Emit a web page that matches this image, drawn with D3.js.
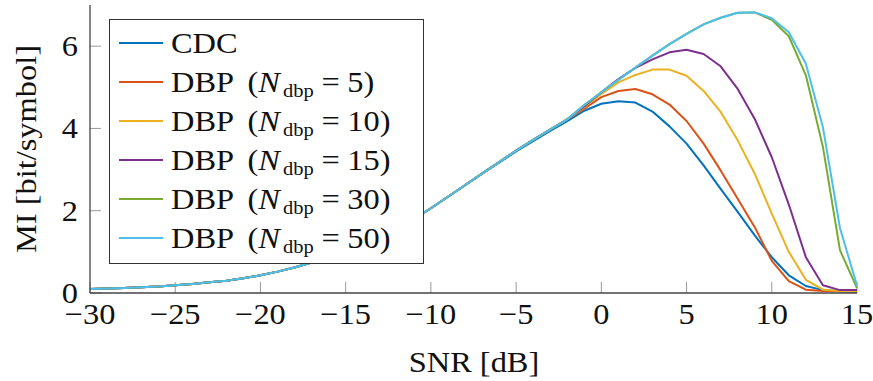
<!DOCTYPE html>
<html>
<head>
<meta charset="utf-8">
<script src="https://cdn.jsdelivr.net/npm/d3@7"></script>
<style>
  body { margin: 0; background: #fff; }
  svg text { font-family: "Liberation Serif", "DejaVu Serif", serif; fill: #111; }
</style>
</head>
<body>
<script>
// SNR grid [dB]
var snr = [-30, -29, -28, -27, -26, -25, -24, -23, -22, -21, -20, -19, -18, -17, -16,
           -15, -14, -13, -12, -11, -10, -9, -8, -7, -6, -5, -4, -3, -2,
           -1, 0, 1, 2, 3, 4, 5, 6, 7, 8, 9, 10, 11, 12, 13, 14, 15];

// MI values, -30 .. -2 dB, where all curves overlap
var low_dbp = [0.10, 0.11, 0.12, 0.14, 0.16, 0.19, 0.22, 0.26, 0.30, 0.36, 0.43, 0.52, 0.62, 0.74, 0.88,
               1.03, 1.20, 1.38, 1.58, 1.80, 2.06, 2.34, 2.62, 2.90, 3.18, 3.46, 3.72, 3.97, 4.22];
var low_cdc = [0.10, 0.11, 0.12, 0.14, 0.16, 0.19, 0.22, 0.26, 0.30, 0.36, 0.43, 0.52, 0.62, 0.74, 0.88,
               1.03, 1.20, 1.38, 1.58, 1.80, 2.06, 2.34, 2.62, 2.90, 3.17, 3.44, 3.69, 3.94, 4.18];

// MI values, -1 .. 15 dB
var cdc   = [4.43, 4.60, 4.66, 4.63, 4.41, 4.05, 3.63, 3.10, 2.53, 1.97, 1.40, 0.87, 0.43, 0.17, 0.07, 0.04, 0.03];
var dbp5  = [4.48, 4.76, 4.91, 4.96, 4.83, 4.58, 4.18, 3.63, 2.98, 2.29, 1.60, 0.78, 0.29, 0.08, 0.05, 0.04, 0.04];
var dbp10 = [4.52, 4.84, 5.12, 5.30, 5.43, 5.43, 5.28, 4.91, 4.40, 3.71, 2.90, 1.93, 1.00, 0.32, 0.08, 0.05, 0.05];
var dbp15 = [4.54, 4.88, 5.20, 5.47, 5.68, 5.85, 5.91, 5.81, 5.51, 4.96, 4.23, 3.30, 2.15, 0.87, 0.19, 0.07, 0.07];
var dbp30 = [4.57, 4.88, 5.18, 5.48, 5.77, 6.05, 6.30, 6.53, 6.69, 6.81, 6.82, 6.64, 6.24, 5.29, 3.55, 1.04, 0.12];
var dbp50 = [4.57, 4.88, 5.18, 5.48, 5.77, 6.05, 6.30, 6.53, 6.69, 6.81, 6.82, 6.68, 6.34, 5.57, 4.03, 1.58, 0.18];

var nvals  = [null, '5', '10', '15', '30', '50'];
var colors = ['#0072bd', '#d95319', '#edb120', '#7e2f8e', '#77ac30', '#4dbeee'];
var series = [low_cdc.concat(cdc), low_dbp.concat(dbp5), low_dbp.concat(dbp10),
              low_dbp.concat(dbp15), low_dbp.concat(dbp30), low_dbp.concat(dbp50)];

var xticks = [-30, -25, -20, -15, -10, -5, 0, 5, 10, 15];
var yticks = [0, 2, 4, 6];

var W = 873, H = 381;
var pad = {top: 5, left: 90};
var fs = 30;
var widen = 1.08;   // the Times-like face is narrower than the original serif

var svg = d3.select('body').append('svg')
    .attr('width', W).attr('height', H);

var sx = d3.scaleLinear().domain([-30, 15]).range([0, 767]);
var sy = d3.scaleLinear().domain([0, 7]).range([288, 0]);

var plot = svg.append('g')
    .attr('transform', 'translate(' + pad.left + ',' + pad.top + ')');

function place(x, y) {
    return 'translate(' + x + ',' + y + ') scale(' + widen + ',1)';
}

// ticks (inward, light grey)
plot.append('g').selectAll('line')
    .data(xticks).enter().append('line')
    .attr('x1', function(d){return sx(d);})
    .attr('x2', function(d){return sx(d);})
    .attr('y1', sy(0)).attr('y2', sy(0) - 11)
    .attr('stroke', '#9a9a9a').attr('stroke-width', 1);
plot.append('g').selectAll('line')
    .data(yticks).enter().append('line')
    .attr('y1', function(d){return sy(d);})
    .attr('y2', function(d){return sy(d);})
    .attr('x1', 0).attr('x2', 11)
    .attr('stroke', '#9a9a9a').attr('stroke-width', 1);

// tick labels
plot.append('g').selectAll('text')
    .data(xticks).enter().append('text')
    .attr('transform', function(d){return place(sx(d), sy(0) + 31);})
    .attr('text-anchor', 'middle')
    .attr('font-size', fs)
    .text(function(d){return d < 0 ? '\u2212' + (-d) : d;});
plot.append('g').selectAll('text')
    .data(yticks).enter().append('text')
    .attr('transform', function(d){return place(-12, sy(d) + 10);})
    .attr('text-anchor', 'end')
    .attr('font-size', fs)
    .text(function(d){return d;});

// curves
var line = d3.line()
    .x(function(d, i){return sx(snr[i]);})
    .y(function(d){return sy(d);});

plot.append('g').selectAll('path')
    .data(series).enter().append('path')
    .attr('d', function(d){return line(d);})
    .attr('fill', 'none')
    .attr('stroke', function(d, i){return colors[i];})
    .attr('stroke-width', 2)
    .attr('stroke-linejoin', 'round');

// axis lines
plot.append('line')
    .attr('x1', 0).attr('x2', sx(15))
    .attr('y1', sy(0)).attr('y2', sy(0))
    .attr('stroke', '#444').attr('stroke-width', 1.3);
plot.append('line')
    .attr('x1', 0).attr('x2', 0)
    .attr('y1', 0).attr('y2', sy(0))
    .attr('stroke', '#444').attr('stroke-width', 1.3);

// axis titles
svg.append('text')
    .attr('transform', place(474, 372))
    .attr('text-anchor', 'middle')
    .attr('font-size', fs)
    .text('SNR [dB]');
svg.append('text')
    .attr('transform', 'translate(36,149) rotate(-90) scale(' + widen + ',1)')
    .attr('text-anchor', 'middle')
    .attr('font-size', fs)
    .text('MI [bit/symbol]');

// legend
var legend = svg.append('g');
legend.append('rect')
    .attr('x', 109.5).attr('y', 19.5)
    .attr('width', 314).attr('height', 244)
    .attr('fill', '#fff').attr('stroke', '#333').attr('stroke-width', 1);

var rows = legend.selectAll('g.row')
    .data(nvals).enter().append('g')
    .attr('class', 'row')
    .attr('transform', function(d, i){return 'translate(0,' + (43 + 39 * i) + ')';});
rows.append('line')
    .attr('x1', 119).attr('x2', 163)
    .attr('y1', 0).attr('y2', 0)
    .attr('stroke', function(d, i){return colors[i];})
    .attr('stroke-width', 2);
rows.each(function(d) {
    var t = d3.select(this).append('text')
        .attr('transform', place(171, 10))
        .attr('font-size', fs);
    if (d === null) {
        t.text('CDC');
        return;
    }
    t.append('tspan').text('DBP ');
    t.append('tspan').attr('dx', 6).text('(');
    t.append('tspan').attr('font-style', 'italic').text('N');
    t.append('tspan').attr('font-size', 19).attr('dx', 3).attr('dy', 5).text('dbp');
    t.append('tspan').attr('dy', -5).attr('dx', 7).text('=');
    t.append('tspan').attr('dx', 7).text(d + ')');
});
</script>
</body>
</html>
